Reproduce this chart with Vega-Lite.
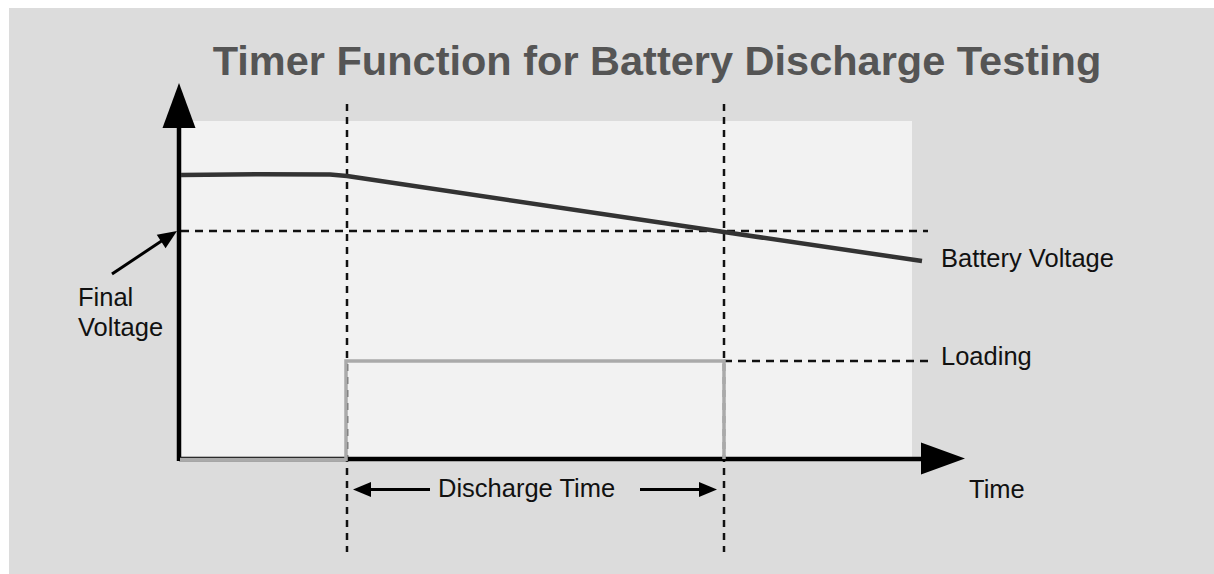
{
  "$schema": "https://vega.github.io/schema/vega-lite/v6.json",
  "width": 1214,
  "height": 574,
  "autosize": {"type": "fit", "contains": "padding"},
  "padding": 0,
  "background": "#dcdcdc",
  "config": {"view": {"stroke": null}},
  "datasets": {
    "margins": [{"x": 0, "x2": 1214, "y": 0, "y2": 8}, {"x": 0, "x2": 9, "y": 0, "y2": 574}],
    "inner": [{"x": 181, "x2": 912, "y": 121, "y2": 458}],
    "vdash": [{"x": 347, "y": 104, "y2": 552}, {"x": 724, "y": 104, "y2": 552}],
    "hdash": [{"x": 181, "x2": 928, "y": 231}, {"x": 724, "x2": 928, "y": 361}],
    "xaxis": [{"x": 179, "x2": 923, "y": 459}],
    "yaxis": [{"x": 179, "y": 126, "y2": 461}],
    "battery": [
      {"x": 181, "y": 175, "o": 1},
      {"x": 260, "y": 174.3, "o": 2},
      {"x": 330, "y": 174.6, "o": 3},
      {"x": 347, "y": 176, "o": 4},
      {"x": 724, "y": 232, "o": 5},
      {"x": 922, "y": 261, "o": 6}
    ],
    "loading": [
      {"x": 180, "y": 459.5, "o": 1},
      {"x": 346, "y": 459.5, "o": 2},
      {"x": 346, "y": 361, "o": 3},
      {"x": 724, "y": 361, "o": 4},
      {"x": 724, "y": 459, "o": 5}
    ],
    "pointer": [
      {"x": 112, "y": 274, "o": 1},
      {"x": 166, "y": 238, "o": 2}
    ],
    "leftArrow": [
      {"x": 368, "y": 489.5, "o": 1},
      {"x": 430, "y": 489.5, "o": 2}
    ],
    "rightArrow": [
      {"x": 640, "y": 489.5, "o": 1},
      {"x": 702, "y": 489.5, "o": 2}
    ],
    "headUp": [{"x": 179, "y": 128}],
    "headRight": [{"x": 921, "y": 458.5}],
    "headPointer": [{"x": 177, "y": 231}],
    "headLeftSmall": [{"x": 353, "y": 489.5}],
    "headRightSmall": [{"x": 717, "y": 489.5}],
    "title": [{"x": 657, "y": 75, "text": "Timer Function for Battery Discharge Testing"}],
    "labels": [
      {"x": 941, "y": 267, "text": "Battery Voltage"},
      {"x": 941, "y": 365, "text": "Loading"},
      {"x": 969, "y": 498, "text": "Time"},
      {"x": 78, "y": 306, "text": "Final"},
      {"x": 78, "y": 336, "text": "Voltage"},
      {"x": 438, "y": 497, "text": "Discharge Time"}
    ]
  },
  "layer": [
    {
      "data": {"name": "margins"},
      "mark": {"type": "rect", "fill": "#ffffff"},
      "encoding": {
        "x": {"field": "x", "type": "quantitative", "scale": {"domain": [0, 1214], "nice": false, "zero": false}, "axis": null},
        "x2": {"field": "x2"},
        "y": {"field": "y", "type": "quantitative", "scale": {"domain": [0, 574], "nice": false, "zero": false, "reverse": true}, "axis": null},
        "y2": {"field": "y2"}
      }
    },
    {
      "data": {"name": "inner"},
      "mark": {"type": "rect", "fill": "#f2f2f2"},
      "encoding": {
        "x": {"field": "x", "type": "quantitative", "scale": {"domain": [0, 1214], "nice": false, "zero": false}, "axis": null},
        "x2": {"field": "x2"},
        "y": {"field": "y", "type": "quantitative", "scale": {"domain": [0, 574], "nice": false, "zero": false, "reverse": true}, "axis": null},
        "y2": {"field": "y2"}
      }
    },
    {
      "data": {"name": "vdash"},
      "mark": {"type": "rule", "stroke": "#111111", "strokeWidth": 2.5, "strokeDash": [7, 6]},
      "encoding": {
        "x": {"field": "x", "type": "quantitative", "scale": {"domain": [0, 1214], "nice": false, "zero": false}, "axis": null},
        "y": {"field": "y", "type": "quantitative", "scale": {"domain": [0, 574], "nice": false, "zero": false, "reverse": true}, "axis": null},
        "y2": {"field": "y2"}
      }
    },
    {
      "data": {"name": "hdash"},
      "mark": {"type": "rule", "stroke": "#111111", "strokeWidth": 2.5, "strokeDash": [8, 6]},
      "encoding": {
        "x": {"field": "x", "type": "quantitative", "scale": {"domain": [0, 1214], "nice": false, "zero": false}, "axis": null},
        "x2": {"field": "x2"},
        "y": {"field": "y", "type": "quantitative", "scale": {"domain": [0, 574], "nice": false, "zero": false, "reverse": true}, "axis": null}
      }
    },
    {
      "data": {"name": "xaxis"},
      "mark": {"type": "rule", "stroke": "#000000", "strokeWidth": 4.5},
      "encoding": {
        "x": {"field": "x", "type": "quantitative", "scale": {"domain": [0, 1214], "nice": false, "zero": false}, "axis": null},
        "x2": {"field": "x2"},
        "y": {"field": "y", "type": "quantitative", "scale": {"domain": [0, 574], "nice": false, "zero": false, "reverse": true}, "axis": null}
      }
    },
    {
      "data": {"name": "yaxis"},
      "mark": {"type": "rule", "stroke": "#000000", "strokeWidth": 4.5},
      "encoding": {
        "x": {"field": "x", "type": "quantitative", "scale": {"domain": [0, 1214], "nice": false, "zero": false}, "axis": null},
        "y": {"field": "y", "type": "quantitative", "scale": {"domain": [0, 574], "nice": false, "zero": false, "reverse": true}, "axis": null},
        "y2": {"field": "y2"}
      }
    },
    {
      "data": {"name": "battery"},
      "mark": {"type": "line", "stroke": "#333333", "strokeWidth": 4.5, "strokeJoin": "round"},
      "encoding": {
        "x": {"field": "x", "type": "quantitative", "scale": {"domain": [0, 1214], "nice": false, "zero": false}, "axis": null},
        "y": {"field": "y", "type": "quantitative", "scale": {"domain": [0, 574], "nice": false, "zero": false, "reverse": true}, "axis": null},
        "order": {"field": "o", "type": "quantitative"}
      }
    },
    {
      "data": {"name": "loading"},
      "mark": {"type": "line", "stroke": "#aaaaaa", "strokeWidth": 3.5},
      "encoding": {
        "x": {"field": "x", "type": "quantitative", "scale": {"domain": [0, 1214], "nice": false, "zero": false}, "axis": null},
        "y": {"field": "y", "type": "quantitative", "scale": {"domain": [0, 574], "nice": false, "zero": false, "reverse": true}, "axis": null},
        "order": {"field": "o", "type": "quantitative"}
      }
    },
    {
      "data": {"name": "pointer"},
      "mark": {"type": "line", "stroke": "#000000", "strokeWidth": 3},
      "encoding": {
        "x": {"field": "x", "type": "quantitative", "scale": {"domain": [0, 1214], "nice": false, "zero": false}, "axis": null},
        "y": {"field": "y", "type": "quantitative", "scale": {"domain": [0, 574], "nice": false, "zero": false, "reverse": true}, "axis": null},
        "order": {"field": "o", "type": "quantitative"}
      }
    },
    {
      "data": {"name": "leftArrow"},
      "mark": {"type": "line", "stroke": "#000000", "strokeWidth": 3},
      "encoding": {
        "x": {"field": "x", "type": "quantitative", "scale": {"domain": [0, 1214], "nice": false, "zero": false}, "axis": null},
        "y": {"field": "y", "type": "quantitative", "scale": {"domain": [0, 574], "nice": false, "zero": false, "reverse": true}, "axis": null},
        "order": {"field": "o", "type": "quantitative"}
      }
    },
    {
      "data": {"name": "rightArrow"},
      "mark": {"type": "line", "stroke": "#000000", "strokeWidth": 3},
      "encoding": {
        "x": {"field": "x", "type": "quantitative", "scale": {"domain": [0, 1214], "nice": false, "zero": false}, "axis": null},
        "y": {"field": "y", "type": "quantitative", "scale": {"domain": [0, 574], "nice": false, "zero": false, "reverse": true}, "axis": null},
        "order": {"field": "o", "type": "quantitative"}
      }
    },
    {
      "data": {"name": "headUp"},
      "mark": {"type": "point", "shape": "M0,-45 L16.5,0 L-16.5,0 Z", "size": 4, "filled": true, "fill": "#000000", "opacity": 1, "strokeWidth": 0},
      "encoding": {
        "x": {"field": "x", "type": "quantitative", "scale": {"domain": [0, 1214], "nice": false, "zero": false}, "axis": null},
        "y": {"field": "y", "type": "quantitative", "scale": {"domain": [0, 574], "nice": false, "zero": false, "reverse": true}, "axis": null}
      }
    },
    {
      "data": {"name": "headRight"},
      "mark": {"type": "point", "shape": "M44,0 L0,-16 L0,16 Z", "size": 4, "filled": true, "fill": "#000000", "opacity": 1, "strokeWidth": 0},
      "encoding": {
        "x": {"field": "x", "type": "quantitative", "scale": {"domain": [0, 1214], "nice": false, "zero": false}, "axis": null},
        "y": {"field": "y", "type": "quantitative", "scale": {"domain": [0, 574], "nice": false, "zero": false, "reverse": true}, "axis": null}
      }
    },
    {
      "data": {"name": "headPointer"},
      "mark": {"type": "point", "shape": "M0,0 L-19,-8 L-19,8 Z", "size": 4, "angle": -33.5, "filled": true, "fill": "#000000", "opacity": 1, "strokeWidth": 0},
      "encoding": {
        "x": {"field": "x", "type": "quantitative", "scale": {"domain": [0, 1214], "nice": false, "zero": false}, "axis": null},
        "y": {"field": "y", "type": "quantitative", "scale": {"domain": [0, 574], "nice": false, "zero": false, "reverse": true}, "axis": null}
      }
    },
    {
      "data": {"name": "headLeftSmall"},
      "mark": {"type": "point", "shape": "M0,0 L18,-7.5 L18,7.5 Z", "size": 4, "filled": true, "fill": "#000000", "opacity": 1, "strokeWidth": 0},
      "encoding": {
        "x": {"field": "x", "type": "quantitative", "scale": {"domain": [0, 1214], "nice": false, "zero": false}, "axis": null},
        "y": {"field": "y", "type": "quantitative", "scale": {"domain": [0, 574], "nice": false, "zero": false, "reverse": true}, "axis": null}
      }
    },
    {
      "data": {"name": "headRightSmall"},
      "mark": {"type": "point", "shape": "M0,0 L-18,-7.5 L-18,7.5 Z", "size": 4, "filled": true, "fill": "#000000", "opacity": 1, "strokeWidth": 0},
      "encoding": {
        "x": {"field": "x", "type": "quantitative", "scale": {"domain": [0, 1214], "nice": false, "zero": false}, "axis": null},
        "y": {"field": "y", "type": "quantitative", "scale": {"domain": [0, 574], "nice": false, "zero": false, "reverse": true}, "axis": null}
      }
    },
    {
      "data": {"name": "title"},
      "mark": {"type": "text", "font": "Liberation Sans", "fontSize": 41.5, "fontWeight": "bold", "fill": "#555555", "align": "center", "baseline": "alphabetic"},
      "encoding": {
        "x": {"field": "x", "type": "quantitative", "scale": {"domain": [0, 1214], "nice": false, "zero": false}, "axis": null},
        "y": {"field": "y", "type": "quantitative", "scale": {"domain": [0, 574], "nice": false, "zero": false, "reverse": true}, "axis": null},
        "text": {"field": "text"}
      }
    },
    {
      "data": {"name": "labels"},
      "mark": {"type": "text", "font": "Liberation Sans", "fontSize": 25.5, "fill": "#111111", "align": "left", "baseline": "alphabetic"},
      "encoding": {
        "x": {"field": "x", "type": "quantitative", "scale": {"domain": [0, 1214], "nice": false, "zero": false}, "axis": null},
        "y": {"field": "y", "type": "quantitative", "scale": {"domain": [0, 574], "nice": false, "zero": false, "reverse": true}, "axis": null},
        "text": {"field": "text"}
      }
    }
  ]
}
